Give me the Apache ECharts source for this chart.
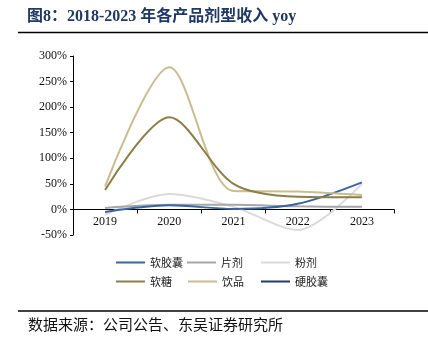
<!DOCTYPE html>
<html>
<head>
<meta charset="utf-8">
<script src="https://cdn.jsdelivr.net/npm/echarts@6/dist/echarts.min.js"></script>
<style>
html, body { margin: 0; padding: 0; background: #fff; }
#chart { width: 428px; height: 348px; }
</style>
</head>
<body>
<div id="chart"></div>
<script>
// Years on the x axis
const years = ['2019', '2020', '2021', '2022', '2023'];

// Revenue yoy (%) by dosage form
const softCapsule = [-5, 8, 1, 11, 53];      // 软胶囊
const tablet = [3, 9, 9, 6, 5];              // 片剂
const powder = [-10, 30, 5, -40, 50];        // 粉剂
const gummy = [38, 180, 50, 25, 24];         // 软糖
const drink = [45, 278, 36, 35, 28];         // 饮品
const hardCapsule = [null, null, null, null, null]; // 硬胶囊

const seriesNames = ['软胶囊', '片剂', '粉剂', '软糖', '饮品', '硬胶囊'];
const seriesData = [softCapsule, tablet, powder, gummy, drink, hardCapsule];
const seriesColors = ['#3B64A2', '#A6A6A6', '#DADADA', '#8C7E48', '#C9BD8F', '#1F3864'];

const yTicks = { min: -50, max: 300, interval: 50 };

const chart = echarts.init(document.getElementById('chart'), null, { renderer: 'canvas' });

const serif = '"Liberation Serif", "Times New Roman", serif';
const cjk = '"Noto Sans CJK SC", sans-serif';

const gridTop = 56, gridBottom = 113, chartH = 348;
const plotH = chartH - gridTop - gridBottom;
// Category axis sits on the 0% line
const zeroOffset = -plotH * (0 - yTicks.min) / (yTicks.max - yTicks.min);

// Legend laid out in a 3 x 2 grid
const legendPos = [
  [116, 257], [187, 257], [261, 257],
  [116, 276], [188, 276], [261, 276]
];

const legends = seriesNames.map((name, i) => ({
  data: [name],
  left: legendPos[i][0],
  top: legendPos[i][1],
  padding: 0,
  icon: 'rect',
  itemWidth: 29,
  itemHeight: 2,
  textStyle: { fontFamily: cjk, fontSize: 11, color: '#222' },
  selectedMode: false
}));

chart.setOption({
  animation: false,
  backgroundColor: '#fff',
  grid: { left: 73, right: 34, top: gridTop, bottom: gridBottom, containLabel: false },
  legend: legends,
  xAxis: {
    type: 'category',
    data: years,
    boundaryGap: true,
    offset: zeroOffset,
    axisLine: { onZero: false, lineStyle: { color: '#000', width: 1 } },
    axisTick: { show: true, length: 4, lineStyle: { color: '#000' } },
    axisLabel: { fontFamily: serif, fontSize: 12, color: '#111', margin: 6 }
  },
  yAxis: {
    type: 'value',
    min: yTicks.min,
    max: yTicks.max,
    interval: yTicks.interval,
    splitLine: { show: false },
    axisLine: { show: true, lineStyle: { color: '#000', width: 1 } },
    axisTick: { show: true, length: 3, lineStyle: { color: '#000' } },
    axisLabel: { fontFamily: serif, fontSize: 12, color: '#111', margin: 6, formatter: '{value}%' }
  },
  series: seriesNames.map((name, i) => ({
    name,
    type: 'line',
    data: seriesData[i],
    smooth: 0.3,
    showSymbol: false,
    symbol: 'none',
    color: seriesColors[i],
    lineStyle: { width: 2, color: seriesColors[i] },
    z: [3, 2, 1, 4, 3, 5][i]
  })),
  graphic: [
    {
      type: 'text',
      left: 27,
      top: 9,
      style: {
        text: '图8：2018-2023 年各产品剂型收入 yoy',
        font: 'bold 16px "Liberation Serif", "Noto Sans CJK SC", serif',
        fill: '#1F3864'
      }
    },
    {
      type: 'line',
      shape: { x1: 18, y1: 32.5, x2: 428, y2: 32.5 },
      style: { stroke: '#000', lineWidth: 1.5 }
    },
    {
      type: 'line',
      shape: { x1: 18, y1: 311, x2: 428, y2: 311 },
      style: { stroke: '#000', lineWidth: 1.5 }
    },
    {
      type: 'text',
      left: 28,
      top: 317,
      style: {
        text: '数据来源：公司公告、东吴证券研究所',
        font: '15px "Noto Sans CJK SC", sans-serif',
        fill: '#111'
      }
    }
  ]
});
</script>
</body>
</html>
